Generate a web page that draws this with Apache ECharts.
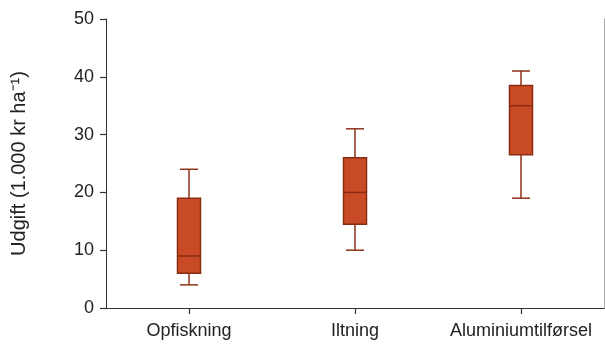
<!DOCTYPE html>
<html>
<head>
<meta charset="utf-8">
<script src="https://cdn.jsdelivr.net/npm/echarts@6/dist/echarts.min.js"></script>
<style>html,body{margin:0;padding:0;background:#fff}#c{width:605px;height:344px}</style>
</head>
<body>
<div id="c"></div>
<script>
var categories = ['Opfiskning', 'Iltning', 'Aluminiumtilførsel'];
// [low whisker, Q1, median, Q3, high whisker]
var lowValues = [4, 10, 19];
var q1Values = [6, 14.5, 26.5];
var medianValues = [9, 20, 35];
var q3Values = [19, 26, 38.5];
var highValues = [24, 31, 41];
var yTicks = [0, 10, 20, 30, 40, 50];

var data = categories.map(function (c, i) {
  return [i, lowValues[i], q1Values[i], medianValues[i], q3Values[i], highValues[i]];
});

var FONT = '"Liberation Sans", Arial, sans-serif';
var chart = echarts.init(document.getElementById('c'), null, {renderer: 'canvas'});
chart.setOption({
  animation: false,
  backgroundColor: '#fff',
  grid: {left: 106, right: 1, top: 19, bottom: 36},
  xAxis: [{
    type: 'category',
    data: categories,
    boundaryGap: true,
    axisLine: {show: true, lineStyle: {color: '#333', width: 1}},
    axisTick: {show: true, alignWithLabel: true, interval: 0, inside: false, length: 6, lineStyle: {color: '#333', width: 1.2}},
    axisLabel: {color: '#222', fontSize: 18, fontFamily: FONT, margin: 14, interval: 0},
    splitLine: {show: false}
  }, {
    type: 'category',
    data: categories,
    position: 'top',
    axisLine: {lineStyle: {color: '#333', width: 1}},
    axisTick: {show: false},
    axisLabel: {show: false}
  }],
  yAxis: [{
    type: 'value',
    min: 0, max: 50, interval: 10,
    name: 'Udgift (1.000 kr ha\u207B\u00B9)',
    nameLocation: 'middle',
    nameGap: 77,
    nameTextStyle: {fontSize: 20, fontFamily: FONT, color: '#222'},
    axisLine: {show: true, lineStyle: {color: '#333', width: 1}},
    axisTick: {show: true, inside: false, length: 6, lineStyle: {color: '#333', width: 1.2}},
    axisLabel: {color: '#222', fontSize: 18, fontFamily: FONT, margin: 12,
      formatter: function (v) { return yTicks.indexOf(v) >= 0 ? String(v) : ''; }},
    splitLine: {show: false}
  }, {
    type: 'value',
    min: 0, max: 50, interval: 10,
    position: 'right',
    axisLine: {show: true, lineStyle: {color: '#aaa', width: 1}},
    axisTick: {show: false},
    axisLabel: {show: false},
    splitLine: {show: false}
  }],
  series: [{
    type: 'custom',
    data: data,
    encode: {x: 0, y: [1, 2, 3, 4, 5]},
    renderItem: function (params, api) {
      var x = api.value(0);
      var pLow = api.coord([x, api.value(1)]);
      var pQ1 = api.coord([x, api.value(2)]);
      var pMed = api.coord([x, api.value(3)]);
      var pQ3 = api.coord([x, api.value(4)]);
      var pHigh = api.coord([x, api.value(5)]);
      var cx = pLow[0];
      var bw = 23, cw = 18;
      var wStyle = {stroke: '#8e3219', lineWidth: 1.5};
      return {
        type: 'group',
        children: [
          {type: 'line', shape: {x1: cx, y1: pHigh[1], x2: cx, y2: pQ3[1]}, style: wStyle},
          {type: 'line', shape: {x1: cx, y1: pLow[1], x2: cx, y2: pQ1[1]}, style: wStyle},
          {type: 'line', shape: {x1: cx - cw / 2, y1: pHigh[1], x2: cx + cw / 2, y2: pHigh[1]}, style: wStyle},
          {type: 'line', shape: {x1: cx - cw / 2, y1: pLow[1], x2: cx + cw / 2, y2: pLow[1]}, style: wStyle},
          {type: 'rect', shape: {x: cx - bw / 2, y: pQ3[1], width: bw, height: pQ1[1] - pQ3[1]},
            style: {fill: '#c94b26', stroke: '#8a2c12', lineWidth: 1.5}},
          {type: 'line', shape: {x1: cx - bw / 2, y1: pMed[1], x2: cx + bw / 2, y2: pMed[1]},
            style: {stroke: '#8a2c12', lineWidth: 1.5}}
        ]
      };
    }
  }]
});
</script>
</body>
</html>
